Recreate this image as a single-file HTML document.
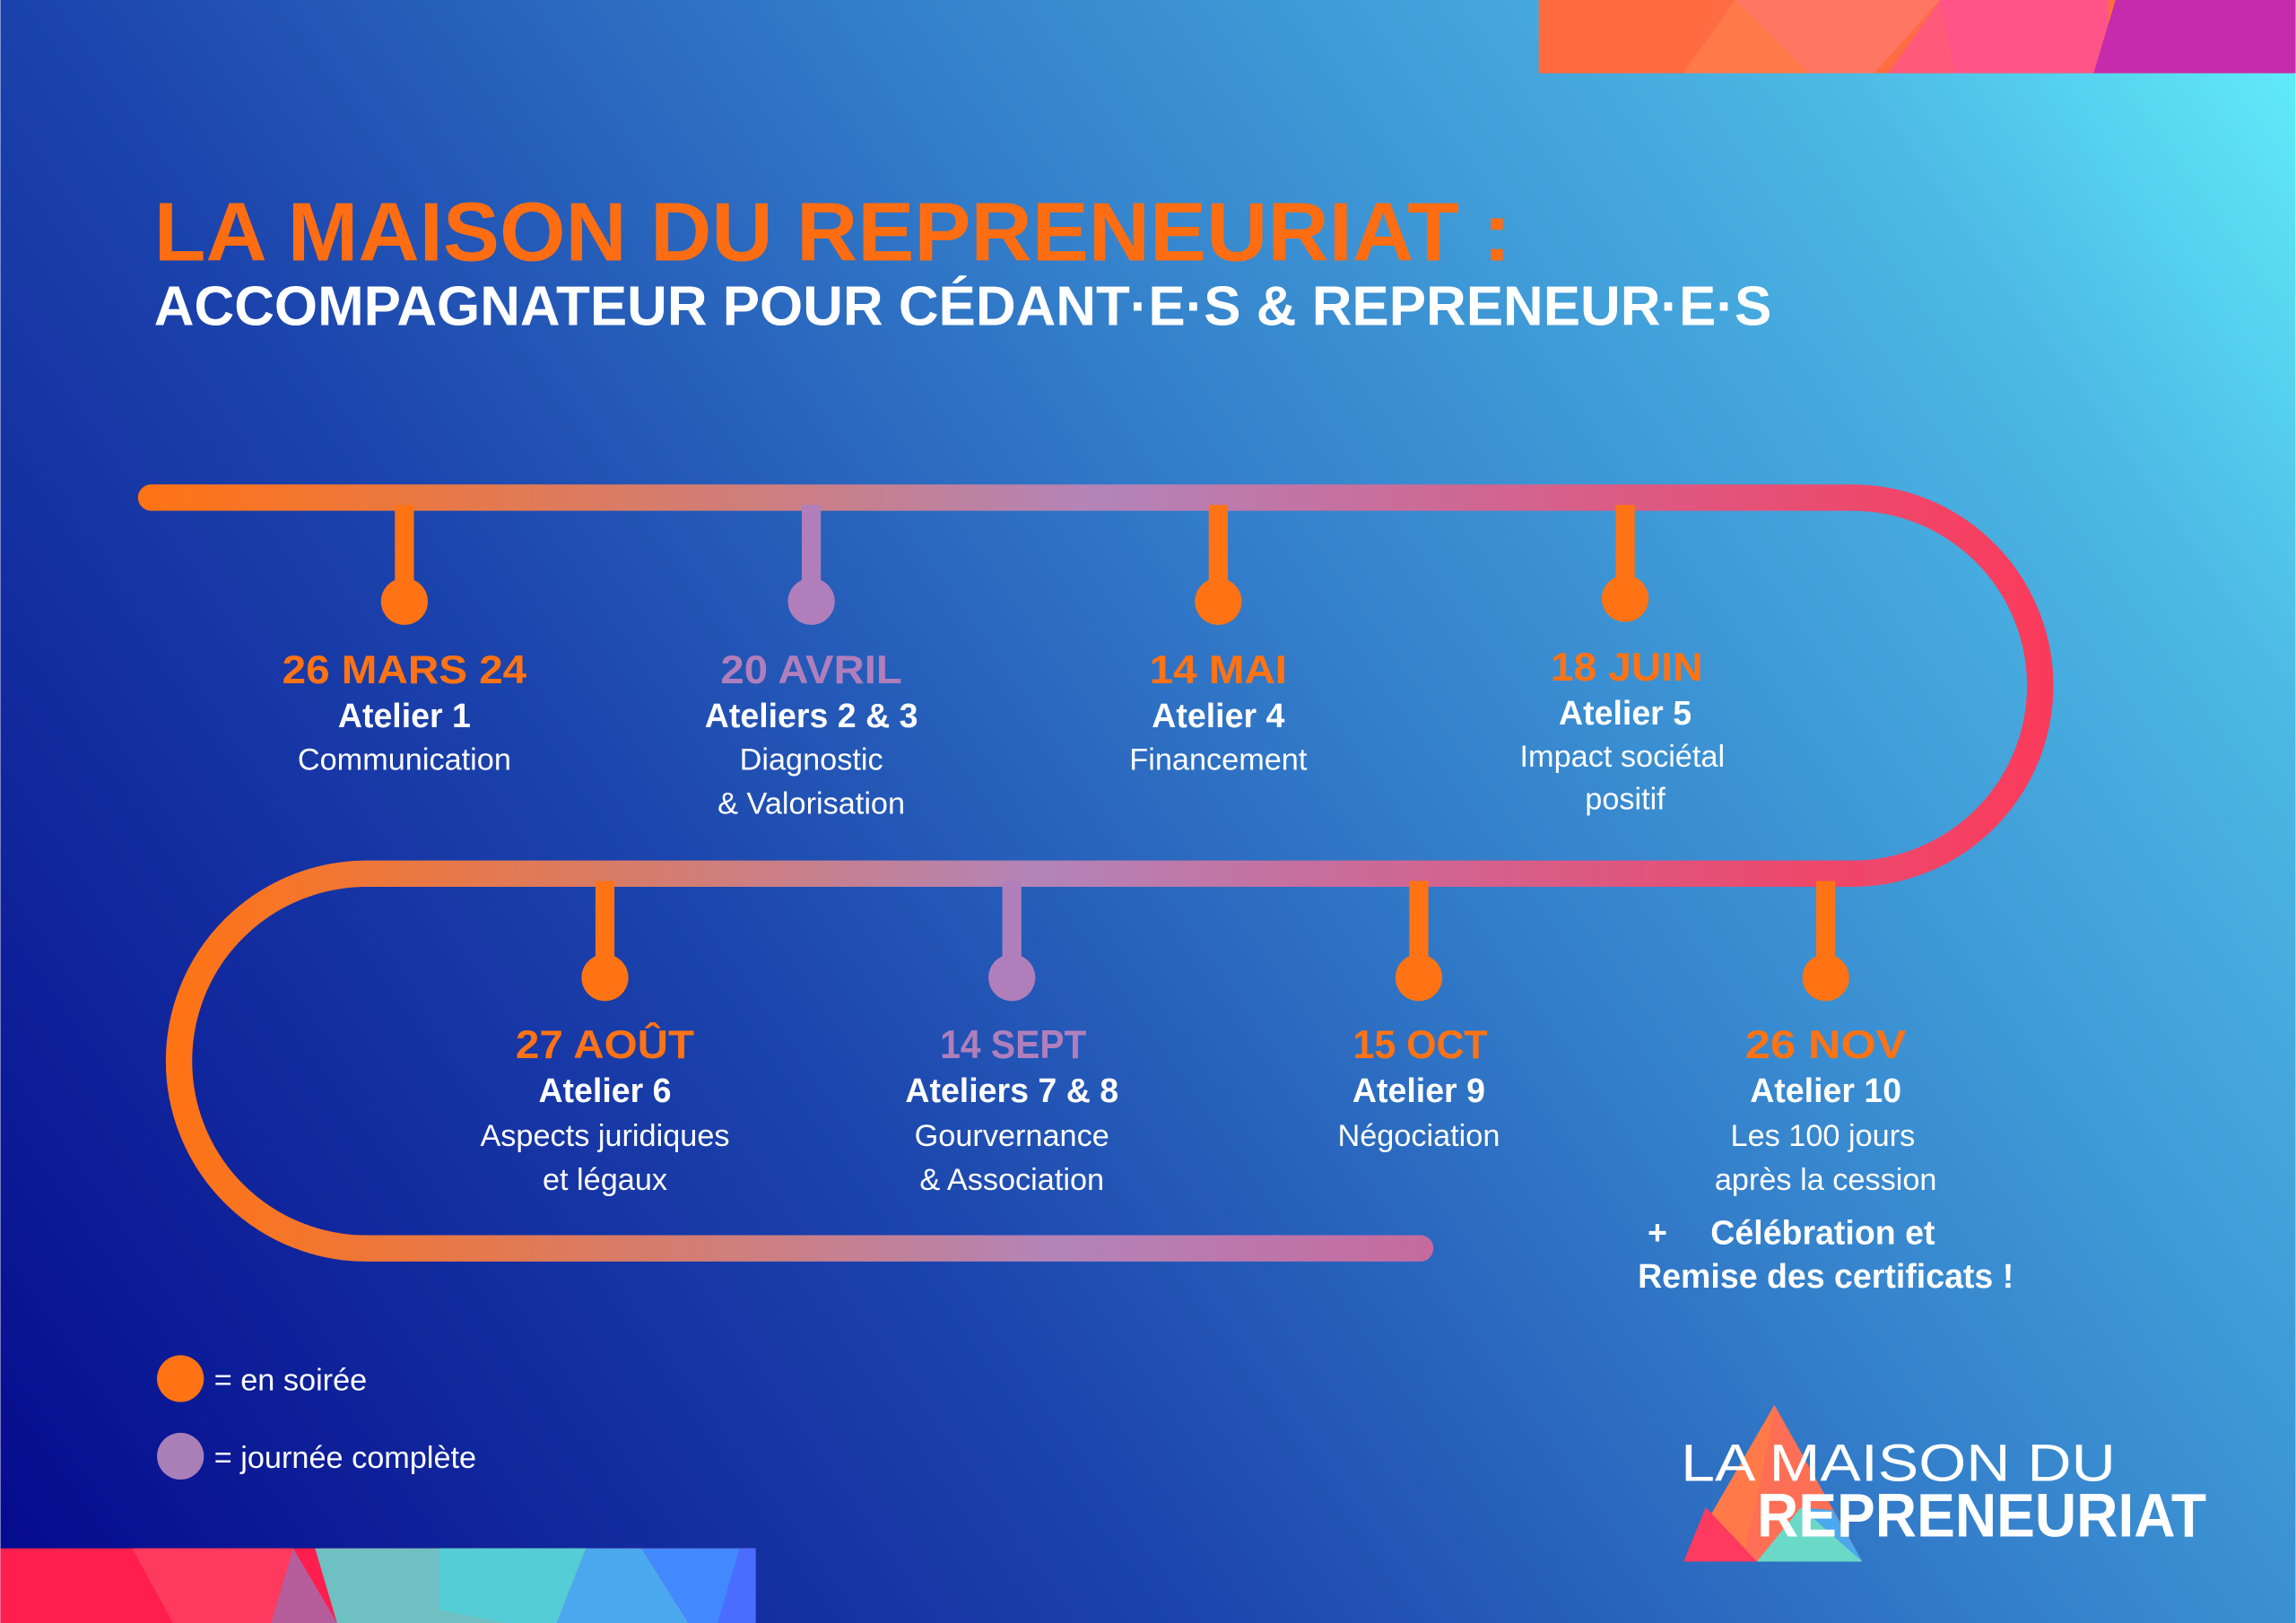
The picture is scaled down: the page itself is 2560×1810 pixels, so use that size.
<!DOCTYPE html>
<html><head><meta charset="utf-8"><style>
html,body{margin:0;padding:0;width:2560px;height:1810px;overflow:hidden}
svg{display:block}
text{font-family:"Liberation Sans",sans-serif}
</style></head><body>
<svg width="2560" height="1810" viewBox="0 0 1568 1109" xmlns="http://www.w3.org/2000/svg">
<defs>
<linearGradient id="bg" x1="0" y1="1109" x2="1568" y2="0" gradientUnits="userSpaceOnUse">
<stop offset="0" stop-color="#05088c"/><stop offset="0.35" stop-color="#1c45ad"/><stop offset="0.6" stop-color="#3582cc"/><stop offset="0.85" stop-color="#4cb8e4"/><stop offset="1" stop-color="#62f0fc"/>
</linearGradient>
<linearGradient id="g1" x1="100" y1="0" x2="1400" y2="0" gradientUnits="userSpaceOnUse">
<stop offset="0" stop-color="#ff7314"/><stop offset="0.5" stop-color="#b384b8"/><stop offset="1" stop-color="#fb3a5a"/>
</linearGradient>
<linearGradient id="g2" x1="120" y1="0" x2="1300" y2="0" gradientUnits="userSpaceOnUse">
<stop offset="0" stop-color="#ff7314"/><stop offset="0.5" stop-color="#b384b8"/><stop offset="1" stop-color="#f44062"/>
</linearGradient>
<linearGradient id="g3" x1="120" y1="0" x2="980" y2="0" gradientUnits="userSpaceOnUse">
<stop offset="0" stop-color="#ff7314"/><stop offset="0.7" stop-color="#b384b8"/><stop offset="1" stop-color="#c66a9e"/>
</linearGradient>
</defs>
<rect width="1568" height="1109" fill="url(#bg)"/>
<!-- top-right band -->
<rect x="1051" y="0" width="517" height="50" fill="#ff6c42"/>
<polygon points="1051,0 1170,0 1150,50 1051,50" fill="#ff6a3e"/>
<polygon points="1185,0 1150,50 1235,50" fill="#ff7a48"/>
<polygon points="1185,0 1325,0 1280,50 1235,50" fill="#ff7763"/>
<polygon points="1325,0 1440,0 1440,50 1335,50" fill="#ff5487"/>
<polygon points="1325,0 1290,50 1335,50" fill="#ff5a7a"/>
<polygon points="1445,0 1568,0 1568,50 1430,50" fill="#c42cab"/>
<!-- bottom-left band -->
<rect x="0" y="1058" width="516" height="51" fill="#ff1e4e"/>
<polygon points="90,1058 200,1058 185,1109 118,1109" fill="#ff3a5e"/>
<polygon points="200,1058 230,1109 185,1109" fill="#b65e9c"/>
<polygon points="215,1058 400,1058 380,1109 230,1109" fill="#6ec0c2"/>
<polygon points="300,1058 400,1058 380,1109 345,1109 300,1100" fill="#55cdd6"/>
<polygon points="400,1058 438,1058 470,1109 380,1109" fill="#4aa9ee"/>
<polygon points="438,1058 516,1058 516,1109 470,1109" fill="#4288ff"/>
<polygon points="505,1058 516,1058 516,1109 490,1109" fill="#4a6cff"/>
<!-- title -->
<text x="105" y="178" font-size="57" font-weight="bold" fill="#ff6d12" textLength="927" lengthAdjust="spacingAndGlyphs">LA MAISON DU REPRENEURIAT :</text>
<text x="105" y="222" font-size="38" font-weight="bold" fill="#fff" textLength="1105" lengthAdjust="spacingAndGlyphs">ACCOMPAGNATEUR POUR CÉDANT·E·S &amp; REPRENEUR·E·S</text>
<!-- timeline -->
<g fill="none" stroke-width="18" stroke-linecap="round">
<path d="M103 340 H1265 A128.5 128.5 0 0 1 1265 597" stroke="url(#g1)"/>
<path d="M1265 597 H250" stroke="url(#g2)"/>
<path d="M250 597 A128 128 0 0 0 250 853 H970" stroke="url(#g3)"/>
</g>
<g stroke-width="13">
<line x1="276" y1="345" x2="276" y2="405" stroke="#ff7314"/>
<line x1="554" y1="345" x2="554" y2="405" stroke="#b07fbb"/>
<line x1="832" y1="345" x2="832" y2="405" stroke="#ff7314"/>
<line x1="1110" y1="345" x2="1110" y2="405" stroke="#ff7314"/>
<line x1="413" y1="602" x2="413" y2="662" stroke="#ff7314"/>
<line x1="691" y1="602" x2="691" y2="662" stroke="#b07fbb"/>
<line x1="969" y1="602" x2="969" y2="662" stroke="#ff7314"/>
<line x1="1247" y1="602" x2="1247" y2="662" stroke="#ff7314"/>
</g>
<circle cx="276" cy="411" r="16" fill="#ff7314"/>
<circle cx="554" cy="411" r="16" fill="#b07fbb"/>
<circle cx="832" cy="411" r="16" fill="#ff7314"/>
<circle cx="1110" cy="409" r="16" fill="#ff7314"/>
<circle cx="413" cy="668" r="16" fill="#ff7314"/>
<circle cx="691" cy="668" r="16" fill="#b07fbb"/>
<circle cx="969" cy="668" r="16" fill="#ff7314"/>
<circle cx="1247" cy="668" r="16" fill="#ff7314"/>
<!-- labels -->
<g text-anchor="middle" fill="#fff">
<g font-size="27" font-weight="bold">
<text x="276" y="467" fill="#ff7314" textLength="167" lengthAdjust="spacingAndGlyphs">26 MARS 24</text>
<text x="554" y="467" fill="#b07fbb" textLength="124" lengthAdjust="spacingAndGlyphs">20 AVRIL</text>
<text x="832" y="467" fill="#ff7314" textLength="94" lengthAdjust="spacingAndGlyphs">14 MAI</text>
<text x="1111" y="465" fill="#ff7314" textLength="104" lengthAdjust="spacingAndGlyphs">18 JUIN</text>
<text x="413" y="723" fill="#ff7314" textLength="122" lengthAdjust="spacingAndGlyphs">27 AOÛT</text>
<text x="692" y="723" fill="#b07fbb" textLength="100" lengthAdjust="spacingAndGlyphs">14 SEPT</text>
<text x="970" y="723" fill="#ff7314" textLength="92" lengthAdjust="spacingAndGlyphs">15 OCT</text>
<text x="1247" y="723" fill="#ff7314" textLength="110" lengthAdjust="spacingAndGlyphs">26 NOV</text>
</g>
<g font-size="23" font-weight="bold">
<text x="276" y="497">Atelier 1</text>
<text x="554" y="497">Ateliers 2 &amp; 3</text>
<text x="832" y="497">Atelier 4</text>
<text x="1110" y="495">Atelier 5</text>
<text x="413" y="753">Atelier 6</text>
<text x="691" y="753">Ateliers 7 &amp; 8</text>
<text x="969" y="753">Atelier 9</text>
<text x="1247" y="753">Atelier 10</text>
</g>
<g font-size="21">
<text x="276" y="526">Communication</text>
<text x="554" y="526">Diagnostic</text>
<text x="554" y="556">&amp; Valorisation</text>
<text x="832" y="526">Financement</text>
<text x="1108" y="524">Impact sociétal</text>
<text x="1110" y="553">positif</text>
<text x="413" y="783">Aspects juridiques</text>
<text x="413" y="813">et légaux</text>
<text x="691" y="783">Gourvernance</text>
<text x="691" y="813">&amp; Association</text>
<text x="969" y="783">Négociation</text>
<text x="1245" y="783">Les 100 jours</text>
<text x="1247" y="813">après la cession</text>
</g>
<g font-size="23" font-weight="bold">
<text x="1132" y="850">+</text>
<text x="1245" y="850">Célébration et</text>
<text x="1247" y="880">Remise des certificats !</text>
</g>
</g>
<!-- legend -->
<circle cx="123" cy="942" r="16" fill="#ff7314"/>
<circle cx="123" cy="995" r="16" fill="#a97fb8"/>
<text x="146" y="950" font-size="21" fill="#fff">= en soirée</text>
<text x="146" y="1003" font-size="21" fill="#fff">= journée complète</text>
<!-- logo -->
<polygon points="1212,960 1150,1067 1272,1067" fill="#ff6f55"/>
<polygon points="1212,960 1150,1067 1190,1067 1205,1000" fill="#ff7a48"/>
<polygon points="1150,1067 1165,1030 1200,1067" fill="#ff3a60"/>
<polygon points="1200,1067 1230,1030 1272,1067" fill="#6ad9c8"/>
<polygon points="1230,1030 1252,1032 1272,1067" fill="#4aa8ee"/>
<text x="1148" y="1012" font-size="36" fill="#fff" textLength="297" lengthAdjust="spacingAndGlyphs">LA MAISON DU</text>
<text x="1200" y="1050" font-size="42" font-weight="bold" fill="#fff" textLength="307" lengthAdjust="spacingAndGlyphs">REPRENEURIAT</text>
</svg>
</body></html>
